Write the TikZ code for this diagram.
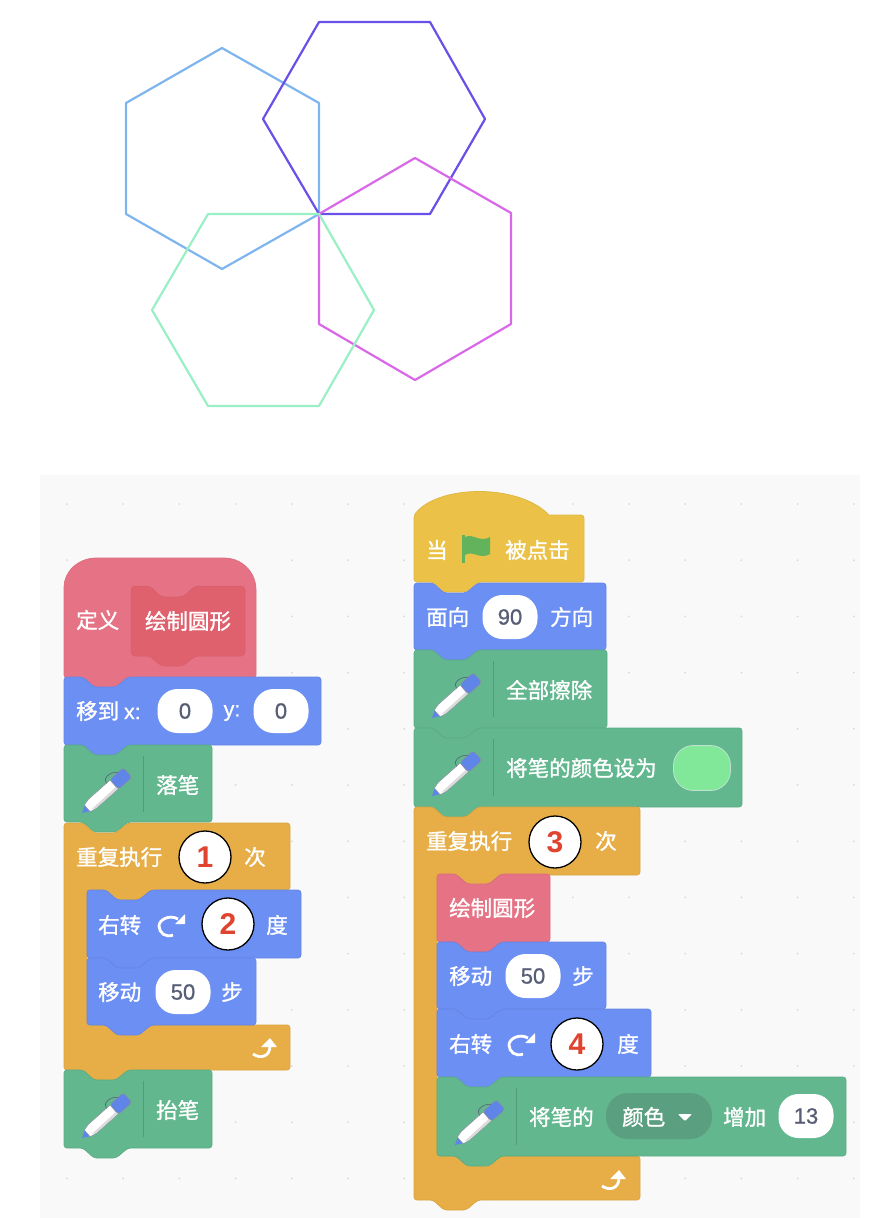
\documentclass[tikz,border=0pt]{standalone}
\usepackage{fontspec}
\setmainfont{Noto Sans CJK SC}[FakeBold=1.2]
\newfontfamily\numfont{Liberation Sans}[FakeBold=0.8]
\newfontfamily\markfont{Liberation Sans}
\definecolor{pinkblk}{HTML}{E57385}
\definecolor{pinkdark}{HTML}{E0616E}
\definecolor{blueblk}{HTML}{6C8FF4}
\definecolor{greenblk}{HTML}{62B78E}
\definecolor{orangeblk}{HTML}{E7AE47}
\definecolor{yellowblk}{HTML}{EBC247}
\definecolor{penblue}{HTML}{5F85E8}
\definecolor{flaggreen}{HTML}{62B35C}
\definecolor{numgray}{HTML}{575E75}
\definecolor{markred}{HTML}{E0432F}
\definecolor{menugreen}{HTML}{5A9F80}
\tikzset{
    hexline/.style={line width=2.2pt, line join=round},
    blocktext/.style={text=white, inner sep=0pt, font=\fontsize{21.5}{24}\selectfont},
    pillbox/.style={fill=white, rounded corners=20pt, minimum width=55pt, minimum height=44pt, inner sep=0pt, text=numgray, font=\numfont\fontsize{22}{24}\selectfont},
    markcircle/.style={circle, draw=black, line width=1.3pt, fill=white, minimum size=52pt, inner sep=0pt, text=markred, font=\markfont\bfseries\fontsize{30}{30}\selectfont},
    sepline/.style={greenblk!85!black, line width=0.7pt},
}
% x y width height colour
\newcommand{\stackblock}[5]{%
    \draw[rounded corners=3pt, fill=#5, draw=#5!94!black, line width=0.7pt]
        (#1,#2) -- (#1+19,#2) -- (#1+30,#2+10) -- (#1+52,#2+10) -- (#1+64,#2) -- (#1+#3,#2)
        -- (#1+#3,#2+#4) -- (#1+64,#2+#4) -- (#1+52,#2+#4+10) -- (#1+30,#2+#4+10) -- (#1+19,#2+#4)
        -- (#1,#2+#4) -- cycle;
}
% x y width arm-bottom lower-arm-top bottom
\newcommand{\loopblock}[6]{%
    \draw[rounded corners=3pt, fill=orangeblk, draw=orangeblk!94!black, line width=0.7pt]
        (#1,#2) -- (#1+19,#2) -- (#1+30,#2+10) -- (#1+52,#2+10) -- (#1+64,#2) -- (#1+#3,#2)
        -- (#1+#3,#4) -- (#1+87,#4) -- (#1+75,#4+10) -- (#1+53,#4+10) -- (#1+42,#4) -- (#1+23,#4)
        -- (#1+23,#5) -- (#1+#3,#5) -- (#1+#3,#6) -- (#1+64,#6) -- (#1+52,#6+10) -- (#1+30,#6+10)
        -- (#1+19,#6) -- (#1,#6) -- cycle;
}
\newcommand{\penicon}[2]{%
    \begin{scope}[shift={(#1+18,#2+68)}, rotate=41.6]
        \fill[penblue] (0,0) -- (8,-4.5) -- (8,4.5) -- cycle;
        \draw[numgray!70, line width=0.5pt, fill=white, rounded corners=1pt] (7,-4.5) -- (14,-6) -- (43,-6) -- (43,6) -- (14,6) -- (7,4.5) -- cycle;
        \fill[black!14] (10,3.5) -- (43,3) -- (43,5.7) -- (14,5.7) -- cycle;
        \draw[numgray!70, line width=0.5pt, fill=penblue, rounded corners=3pt] (43,-6.5) -- (61,-6.5) -- (61,6.5) -- (43,6.5) -- cycle;
        \draw[numgray, line width=0.6pt] (38,-6) .. controls (38,-12) and (48,-13) .. (54,-6.5);
    \end{scope}
}
\newcommand{\turnicon}[2]{%
    \draw[white, line width=2.8pt] (#1+6,#2-6) .. controls (#1-3,#2-11) and (#1-13,#2-5) .. (#1-13,#2+1)
        .. controls (#1-13,#2+8) and (#1-6,#2+13) .. (#1+1,#2+10);
    \fill[white, rounded corners=0.5pt] (#1+13,#2-11) -- (#1+13,#2-1) -- (#1+3,#2-1) -- cycle;
}
\newcommand{\loopicon}[2]{%
    \draw[white, line width=2.8pt] (#1-12,#2+6) .. controls (#1-5,#2+11) and (#1+5,#2+9) .. (#1+5,#2-2);
    \fill[white, rounded corners=0.5pt] (#1-4,#2-1) -- (#1+5,#2-10) -- (#1+12,#2-1) -- cycle;
}
\begin{document}
\begin{tikzpicture}[x=1pt, y=-1pt]
    \useasboundingbox (0,0) rectangle (876,1218);
    \draw[hexline, color={rgb,255:red,127;green,181;blue,238}] (222,48) -- (319,103) -- (319,214) -- (222,269) -- (126,214) -- (126,103) -- cycle;
    \draw[hexline, color={rgb,255:red,106;green,79;blue,232}] (319,22) -- (430,22) -- (485,119) -- (430,214) -- (319,214) -- (263,119) -- cycle;
    \draw[hexline, color={rgb,255:red,217;green,104;blue,232}] (415,158) -- (511,213) -- (511,324) -- (415,380) -- (319,324) -- (319,214) -- cycle;
    \draw[hexline, color={rgb,255:red,154;green,239;blue,196}] (208,214) -- (319,214) -- (374,310) -- (319,406) -- (208,406) -- (152,310) -- cycle;
    % workspace
    \fill[black!2.5] (40,475) rectangle (860,1218);
    \foreach \i in {0,...,14}
        \foreach \j in {0,...,12}
            \fill[black!15] ({67+56.2*\i},{504+56.2*\j}) circle (1pt);
    % left stack
    \draw[rounded corners=3pt, fill=pinkblk, draw=pinkblk!96!black, line width=0.7pt]
        (64,678) -- (64,590) [sharp corners] .. controls (64,572) and (78,558) .. (96,558)
        -- (224,558) .. controls (242,558) and (256,572) .. (256,590) [rounded corners=3pt]
        -- (256,678) -- (128,678) -- (116,688) -- (94,688) -- (83,678) -- cycle;
    \draw[rounded corners=4pt, fill=pinkdark, draw=pinkdark!96!black, line width=0.5pt]
        (131,586) -- (150,586) -- (161,597) -- (183,597) -- (195,586) -- (245,586) -- (245,656)
        -- (195,656) -- (183,666) -- (161,666) -- (150,656) -- (131,656) -- cycle;
    \stackblock{64}{677}{257}{68}{blueblk}
    \stackblock{64}{745}{148}{77}{greenblk}
    \loopblock{64}{823}{226}{890}{1025}{1070}
    \stackblock{87}{890}{214}{68}{blueblk}
    \stackblock{87}{958}{169}{67}{blueblk}
    \stackblock{64}{1070}{148}{78}{greenblk}
    \penicon{64}{745}
    \penicon{64}{1070}
    \draw[sepline] (143,756) -- (143,812);
    \draw[sepline] (143,1081) -- (143,1137);
    \node[blocktext, anchor=west] (define) at (76,620) {定义};
    \node[blocktext] (defname) at (188,621) {绘制圆形};
    \node[blocktext, anchor=west] (gotolbl) at (76,711) {移到 {\numfont x:}};
    \node[pillbox] (gotox) at (185,711) {0};
    \node[blocktext] (gotoy) at (232,713) {\numfont y:};
    \node[pillbox] (gotoyval) at (281,711) {0};
    \node[blocktext, anchor=west] (pendown) at (156,785) {落笔};
    \node[blocktext, anchor=west] (repeatl) at (76,857) {重复执行};
    \node[markcircle] (markone) at (205,857) {1};
    \node[blocktext] (timesl) at (255,857) {次};
    \node[blocktext, anchor=west] (turnl) at (98,925) {右转};
    \turnicon{172}{925}
    \node[markcircle] (marktwo) at (228,924) {2};
    \node[blocktext] (degl) at (277,925) {度};
    \node[blocktext, anchor=west] (movel) at (98,992) {移动};
    \node[pillbox] (stepsl) at (183,992) {50};
    \node[blocktext] (stepl) at (232,992) {步};
    \loopicon{265}{1048}
    \node[blocktext, anchor=west] (penup) at (156,1110) {抬笔};
    % right stack
    \draw[rounded corners=3pt, fill=yellowblk, draw=yellowblk!94!black, line width=0.7pt]
        (414,582) -- (414,515) [sharp corners] .. controls (440,484) and (520,484) .. (549,515) [rounded corners=3pt]
        -- (584,515) -- (584,582) -- (478,582) -- (466,592) -- (444,592) -- (433,582) -- cycle;
    \stackblock{414}{583}{192}{67}{blueblk}
    \stackblock{414}{650}{193}{78}{greenblk}
    \stackblock{414}{728}{328}{79}{greenblk}
    \loopblock{414}{807}{226}{875}{1156}{1200}
    \stackblock{437}{874}{113}{68}{pinkblk}
    \stackblock{437}{942}{169}{67}{blueblk}
    \stackblock{437}{1009}{214}{68}{blueblk}
    \stackblock{437}{1077}{409}{79}{greenblk}
    \penicon{414}{650}
    \penicon{414}{728}
    \penicon{437}{1077}
    \draw[sepline] (493,661) -- (493,717);
    \draw[sepline] (493,739) -- (493,796);
    \draw[sepline] (516,1088) -- (516,1145);
    \node[blocktext] (whenlbl) at (437,550) {当};
    \fill[flaggreen] (462,535) rectangle (465,563);
    \fill[flaggreen] (465,537) .. controls (473,533) and (480,543) .. (490,537) -- (490,554) .. controls (480,560) and (473,550) .. (465,555) -- cycle;
    \node[blocktext, anchor=west] (clicked) at (505,550) {被点击};
    \node[blocktext, anchor=west] (facelbl) at (426,617) {面向};
    \node[pillbox] (faceval) at (510,617) {90};
    \node[blocktext, anchor=west] (dirlbl) at (550,617) {方向};
    \node[blocktext, anchor=west] (erase) at (506,690) {全部擦除};
    \node[blocktext, anchor=west] (setcolor) at (506,768) {将笔的颜色设为};
    \node[fill={rgb,255:red,128;green,232;blue,152}, draw=white!60!greenblk, line width=0.8pt, rounded corners=20pt, minimum width=57pt, minimum height=45pt] (swatch) at (702,768) {};
    \node[blocktext, anchor=west] (repeatr) at (426,841) {重复执行};
    \node[markcircle] (markthree) at (555,842) {3};
    \node[blocktext] (timesr) at (606,841) {次};
    \node[blocktext, anchor=west] (callname) at (449,908) {绘制圆形};
    \node[blocktext, anchor=west] (mover) at (449,976) {移动};
    \node[pillbox] (stepsr) at (533,976) {50};
    \node[blocktext] (stepr) at (583,976) {步};
    \node[blocktext, anchor=west] (turnr) at (449,1044) {右转};
    \turnicon{522}{1044}
    \node[markcircle] (markfour) at (577,1044) {4};
    \node[blocktext] (degr) at (628,1044) {度};
    \node[blocktext, anchor=west] (penchange) at (529,1117) {将笔的};
    \node[fill=menugreen, rounded corners=22pt, minimum width=106pt, minimum height=46pt] (menubox) at (659,1116) {};
    \node[blocktext, anchor=west] (menulbl) at (622,1117) {颜色};
    \fill[white, rounded corners=1pt] (678,1114) -- (692,1114) -- (685,1121) -- cycle;
    \node[blocktext, anchor=west] (addlbl) at (723,1117) {增加};
    \node[pillbox] (addval) at (806,1116) {13};
    \loopicon{614}{1180}
\end{tikzpicture}
\end{document}
